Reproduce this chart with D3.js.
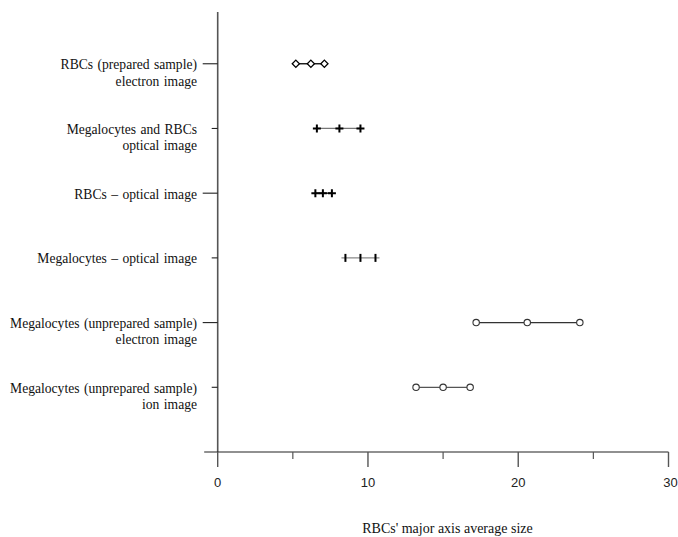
<!DOCTYPE html>
<html><head><meta charset="utf-8">
<script src="https://cdn.jsdelivr.net/npm/d3@7"></script>
<style>
body{margin:0;background:#fff}
.serif{font-family:'Liberation Serif','Times New Roman',Times,serif}
.sans{font-family:'Liberation Sans',Arial,Helvetica,sans-serif}
</style>
</head><body>
<svg id="c" width="678" height="537"></svg>
<script>
// Data
const labelLine1 = ["RBCs (prepared sample)", "Megalocytes and RBCs", "RBCs \u2013 optical image", "Megalocytes \u2013 optical image", "Megalocytes (unprepared sample)", "Megalocytes (unprepared sample)"];
const labelLine2 = ["electron image", "optical image", "", "", "electron image", "ion image"];
const rowPos = [6, 5, 4, 3, 2, 1];
const lowVals = [5.2, 6.6, 6.5, 8.5, 17.2, 13.2];
const midVals = [6.2, 8.1, 7.0, 9.5, 20.6, 15.0];
const highVals = [7.1, 9.5, 7.6, 10.5, 24.1, 16.8];
const markerType = ["diamond", "plus", "plus", "vbar", "circle", "circle"];
const xMajorTicks = [0, 10, 20, 30];
const xMinorTicks = [5, 15, 25];
const xTitle = "RBCs' major axis average size";

const lineColors = ["#000", "#777", "#111", "#888", "#333", "#555"];

const svg = d3.select("#c");
const x = d3.scaleLinear().domain([0, 30]).range([217.7, 668.5]);
const y = d3.scaleLinear().domain([0, 6.8]).range([452, 12]);
const axisColor = "#555";

// Y axis line
svg.append("line").attr("x1", x(0)).attr("x2", x(0)).attr("y1", y(6.8)).attr("y2", y(0))
  .attr("stroke", axisColor).attr("stroke-width", 1.6);
// X axis line
svg.append("line").attr("x1", x(-0.9)).attr("x2", x(30)).attr("y1", y(0)).attr("y2", y(0))
  .attr("stroke", "#222").attr("stroke-width", 1.2);

// X ticks
xMajorTicks.forEach(t => {
  svg.append("line").attr("x1", x(t)).attr("x2", x(t)).attr("y1", y(0)).attr("y2", y(0) + 15)
    .attr("stroke", axisColor).attr("stroke-width", 1.4);
  svg.append("text").attr("class", "sans").attr("x", x(t) + (t === 30 ? 2 : 0)).attr("y", 487).attr("text-anchor", "middle")
    .attr("font-size", 13).attr("fill", "#222").text(t);
});
xMinorTicks.forEach(t => {
  svg.append("line").attr("x1", x(t)).attr("x2", x(t)).attr("y1", y(0)).attr("y2", y(0) + 7)
    .attr("stroke", axisColor).attr("stroke-width", 1.2);
});

// X title
svg.append("text").attr("class", "serif").attr("x", 447.5).attr("y", 533).attr("text-anchor", "middle")
  .attr("font-size", 14).attr("fill", "#111").text(xTitle);

// Y ticks & labels
rowPos.forEach((p, i) => {
  const yy = y(p);
  const len = (i % 2 === 0) ? 15 : 6;
  svg.append("line").attr("x1", x(0) - len).attr("x2", x(0)).attr("y1", yy).attr("y2", yy)
    .attr("stroke", "#222").attr("stroke-width", 1.1);
  const t = svg.append("text").attr("class", "serif").attr("text-anchor", "end")
    .attr("font-size", 13.6).attr("fill", "#111").attr("word-spacing", 1);
  t.append("tspan").attr("x", 197).attr("y", yy + 5.5).text(labelLine1[i]);
  if (labelLine2[i]) t.append("tspan").attr("x", 197).attr("y", yy + 21.8).text(labelLine2[i]);
});

// Rows
rowPos.forEach((p, i) => {
  const yy = y(p);
  const ext = markerType[i] === "vbar" ? 4 : 0;
  svg.append("line").attr("x1", x(lowVals[i]) - ext).attr("x2", x(highVals[i]) + ext).attr("y1", yy).attr("y2", yy)
    .attr("stroke", lineColors[i]).attr("stroke-width", 1.3);
  [lowVals[i], midVals[i], highVals[i]].forEach(v => {
    const cx = x(v);
    const m = markerType[i];
    if (m === "diamond") {
      svg.append("path").attr("d", `M${cx},${yy-3.6}L${cx+3.6},${yy}L${cx},${yy+3.6}L${cx-3.6},${yy}Z`)
        .attr("fill", "#fff").attr("stroke", "#000").attr("stroke-width", 1.3);
    } else if (m === "plus") {
      svg.append("path").attr("d", `M${cx-4},${yy}H${cx+4}M${cx},${yy-4}V${yy+4}`)
        .attr("stroke", "#000").attr("stroke-width", 2);
    } else if (m === "vbar") {
      svg.append("path").attr("d", `M${cx},${yy-4}V${yy+4}`)
        .attr("stroke", "#000").attr("stroke-width", 2);
    } else {
      svg.append("circle").attr("cx", cx).attr("cy", yy).attr("r", 3.2)
        .attr("fill", "#fff").attr("stroke", "#333").attr("stroke-width", 1.1);
    }
  });
});
</script>
</body></html>
